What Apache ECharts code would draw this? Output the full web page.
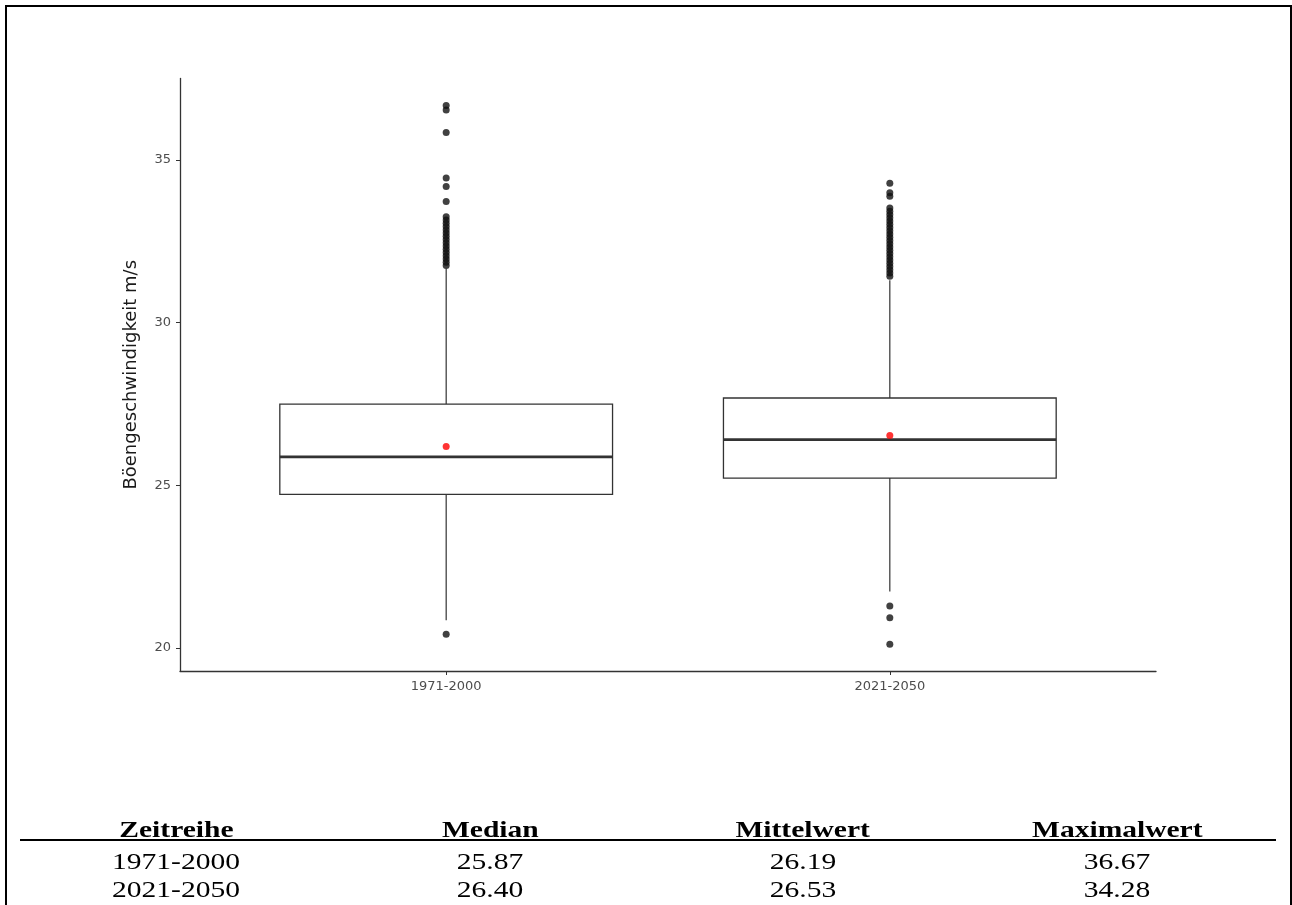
<!DOCTYPE html>
<html>
<head>
<meta charset="utf-8">
<script src="https://cdn.jsdelivr.net/npm/echarts@6/dist/echarts.min.js"></script>
<style>
  html, body { margin: 0; padding: 0; background: #fff; width: 1292px; height: 905px; overflow: hidden; }
  #chart { position: absolute; left: 0; top: 0; width: 1292px; height: 905px; }
  #frame { position: absolute; left: 5px; top: 5px; width: 1287px; height: 1000px; box-sizing: border-box;
           border-left: 2px solid #000; border-top: 2px solid #000; border-right: 2px solid #000; }
  #rule { position: absolute; left: 20px; top: 839px; width: 1256px; height: 2px; background: #000; }
  .cell { position: absolute; width: 314px; text-align: center; font-family: "Liberation Serif", "Times New Roman", serif;
          font-size: 24px; line-height: 24px; color: #000; white-space: nowrap; }
  .cell span { display: inline-block; transform: scaleX(1.23); transform-origin: center; }
  .head { font-weight: bold; }
</style>
</head>
<body>
<div id="chart"></div>
<div id="frame"></div>
<div id="rule"></div>
<div id="table"></div>
<script>
// ---- chart data ----
const categories = ['1971-2000', '2021-2050'];
const boxMin    = [20.85, 21.73];
const boxQ1     = [24.72, 25.22];
const boxMedian = [25.87, 26.40];
const boxQ3     = [27.49, 27.68];
const boxMax    = [31.65, 31.30];
const means     = [26.19, 26.53];
const outliers1971 = [36.67, 36.53, 35.84, 34.44, 34.18, 33.72,
  33.25, 33.15, 33.05, 32.95, 32.85, 32.75, 32.65, 32.55, 32.45, 32.35,
  32.25, 32.15, 32.05, 31.95, 31.85, 31.75, 20.42];
const outliers2021 = [34.28, 33.99, 33.88,
  33.52, 33.42, 33.32, 33.22, 33.12, 33.02, 32.92, 32.82, 32.72, 32.62, 32.52,
  32.42, 32.32, 32.22, 32.12, 32.02, 31.92, 31.82, 31.72, 31.62, 31.52, 31.42,
  21.29, 20.93, 20.11];
const yTicks = [20, 25, 30, 35];
const yTitle = 'Böengeschwindigkeit m/s';

// ---- table data ----
const tableHeaders = ['Zeitreihe', 'Median', 'Mittelwert', 'Maximalwert'];
const tableSeries  = ['1971-2000', '2021-2050'];
const tableMedian  = ['25.87', '26.40'];
const tableMean    = ['26.19', '26.53'];
const tableMax     = ['36.67', '34.28'];

// build table
(function () {
  const colCenters = [176, 490, 803, 1117];
  const rowTops = [817, 849, 877];
  const rows = [tableHeaders];
  for (let i = 0; i < tableSeries.length; i++) rows.push([tableSeries[i], tableMedian[i], tableMean[i], tableMax[i]]);
  const host = document.getElementById('table');
  rows.forEach((r, ri) => {
    r.forEach((t, ci) => {
      const d = document.createElement('div');
      d.className = 'cell' + (ri === 0 ? ' head' : '');
      d.style.left = (colCenters[ci] - 157) + 'px';
      d.style.top = rowTops[ri] + 'px';
      const s = document.createElement('span');
      s.textContent = t;
      d.appendChild(s);
      host.appendChild(d);
    });
  });
})();

const boxData = categories.map((c, i) => [i + 1, boxMin[i], boxQ1[i], boxMedian[i], boxQ3[i], boxMax[i]]);
const outlierData = [];
outliers1971.forEach(v => outlierData.push([1, v]));
outliers2021.forEach(v => outlierData.push([2, v]));
const meanData = means.map((v, i) => [i + 1, v]);

const chart = echarts.init(document.getElementById('chart'), null, { renderer: 'canvas' });
chart.setOption({
  animation: false,
  backgroundColor: 'transparent',
  grid: { left: 180, right: 136, top: 78.5, bottom: 234, containLabel: false },
  xAxis: {
    type: 'value', min: 0.4, max: 2.6,
    splitLine: { show: false },
    axisLine: { show: true, lineStyle: { color: '#333', width: 1.3 } },
    axisTick: { show: true, customValues: [1, 2], length: 4, lineStyle: { color: '#333', width: 1 } },
    axisLabel: { customValues: [1, 2], formatter: v => categories[Math.round(v) - 1] || '',
      color: '#4d4d4d', fontSize: 13, fontFamily: 'DejaVu Sans', margin: 9 }
  },
  yAxis: {
    type: 'value', min: 19.29, max: 37.5,
    splitLine: { show: false },
    axisLine: { show: true, lineStyle: { color: '#333', width: 1.3 } },
    axisTick: { show: true, customValues: yTicks, length: 4, lineStyle: { color: '#333', width: 1 } },
    axisLabel: { customValues: yTicks, color: '#4d4d4d', fontSize: 13, fontFamily: 'DejaVu Sans', margin: 9 },
    name: yTitle, nameLocation: 'middle', nameGap: 40,
    nameTextStyle: { color: '#1a1a1a', fontSize: 18, fontFamily: 'DejaVu Sans' }
  },
  series: [
    {
      type: 'custom',
      data: boxData,
      z: 2,
      renderItem: function (params, api) {
        const x = api.value(0);
        const pMin = api.coord([x, api.value(1)]);
        const pQ1 = api.coord([x, api.value(2)]);
        const pMed = api.coord([x, api.value(3)]);
        const pQ3 = api.coord([x, api.value(4)]);
        const pMax = api.coord([x, api.value(5)]);
        const hw = api.size([0.75, 0])[0] / 2;
        const cx = pMed[0];
        const stroke = '#333';
        return {
          type: 'group',
          children: [
            { type: 'line', shape: { x1: cx, y1: pQ3[1], x2: cx, y2: pMax[1] }, style: { stroke: stroke, lineWidth: 1.2 } },
            { type: 'line', shape: { x1: cx, y1: pQ1[1], x2: cx, y2: pMin[1] }, style: { stroke: stroke, lineWidth: 1.2 } },
            { type: 'rect', shape: { x: cx - hw, y: pQ3[1], width: 2 * hw, height: pQ1[1] - pQ3[1] },
              style: { fill: '#fff', stroke: stroke, lineWidth: 1.3 } },
            { type: 'line', shape: { x1: cx - hw, y1: pMed[1], x2: cx + hw, y2: pMed[1] }, style: { stroke: '#333', lineWidth: 2.6 } }
          ]
        };
      }
    },
    {
      type: 'scatter', data: outlierData, symbol: 'circle', symbolSize: 7, z: 3,
      itemStyle: { color: '#111' }
    },
    {
      type: 'scatter', data: meanData, symbol: 'circle', symbolSize: 7, z: 4,
      itemStyle: { color: '#ff0000' }
    }
  ]
});
</script>
</body>
</html>
